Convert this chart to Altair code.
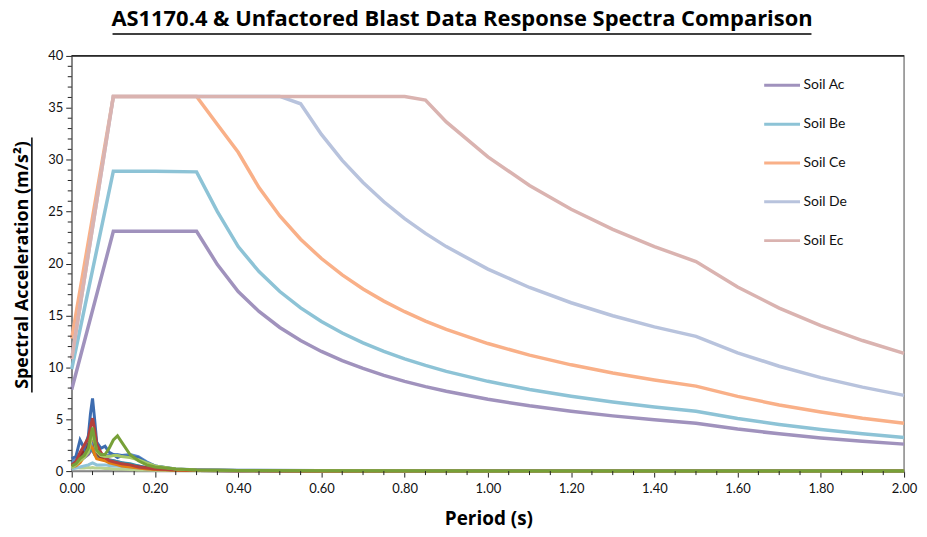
import altair as alt
import pandas as pd

# ---------------- data ----------------
title_text = "AS1170.4 & Unfactored Blast Data Response Spectra Comparison"
x_title = "Period (s)"
y_title = "Spectral Acceleration (m/s²)"

period = [0.0, 0.1, 0.2, 0.3, 0.35, 0.4, 0.45, 0.5, 0.55, 0.6, 0.65, 0.7, 0.75, 0.8,
          0.85, 0.9, 1.0, 1.1, 1.2, 1.3, 1.4, 1.5, 1.6, 1.7, 1.8, 1.9, 2.0]

soil_names = ["Soil Ac", "Soil Be", "Soil Ce", "Soil De", "Soil Ec"]
soil_colors = ["#A092BD", "#8DC3D6", "#F9B088", "#B8C3DD", "#DAB3B0"]

soil_ac = [7.86, 23.1, 23.1, 23.1, 19.9, 17.30, 15.38, 13.84, 12.58, 11.53, 10.65, 9.89, 9.23, 8.65,
           8.14, 7.69, 6.92, 6.29, 5.77, 5.32, 4.94, 4.61, 4.05, 3.59, 3.20, 2.88, 2.60]
soil_be = [9.83, 28.9, 28.9, 28.83, 25.0, 21.63, 19.22, 17.30, 15.73, 14.42, 13.31, 12.36, 11.53, 10.81,
           10.18, 9.61, 8.65, 7.86, 7.21, 6.65, 6.18, 5.77, 5.07, 4.49, 4.00, 3.59, 3.24]
soil_ce = [12.78, 36.1, 36.1, 36.1, 33.4, 30.72, 27.31, 24.58, 22.34, 20.48, 18.90, 17.55, 16.38, 15.36,
           14.46, 13.65, 12.29, 11.17, 10.24, 9.45, 8.78, 8.19, 7.20, 6.37, 5.69, 5.10, 4.61]
soil_de = [10.81, 36.1, 36.1, 36.1, 36.1, 36.1, 36.1, 36.1, 35.39, 32.44, 29.94, 27.81, 25.95, 24.33,
           22.90, 21.63, 19.46, 17.69, 16.22, 14.97, 13.90, 12.98, 11.40, 10.10, 9.01, 8.09, 7.30]
soil_ee = [10.81, 36.1, 36.1, 36.1, 36.1, 36.1, 36.1, 36.1, 36.1, 36.1, 36.1, 36.1, 36.1, 36.1,
           35.75, 33.64, 30.28, 27.52, 25.23, 23.29, 21.63, 20.19, 17.74, 15.71, 14.02, 12.58, 11.35]
soil_values = [soil_ac, soil_be, soil_ce, soil_de, soil_ee]

blast_period = [0.00, 0.01, 0.02, 0.03, 0.04, 0.045, 0.05, 0.055, 0.06, 0.07, 0.08, 0.09, 0.10,
                0.11, 0.12, 0.14, 0.16, 0.18, 0.20, 0.25, 0.30, 0.40, 0.60, 1.00, 2.00]

blast_names = ["B01", "B02", "B03", "B04", "B05", "B06", "B07", "B08", "B09", "B10", "B11"]
blast_colors = ["#B9D38F", "#8FC3D8", "#7E63A2", "#3291AA", "#5B8BC8", "#8E2F2B", "#E37E12",
                "#3D6CB0", "#B5403C", "#A5C768", "#77A038"]
blast_pale = [0.3, 0.35, 0.3, 0.3, 0.35, 0.3, 0.35, 0.3, 0.3, 0.3, 0.25, 0.25, 0.2,
              0.2, 0.2, 0.15, 0.1, 0.1, 0.08, 0.05, 0.04, 0.03, 0.02, 0.01, 0.0]
blast_lightblue = [0.2, 0.3, 0.4, 0.5, 0.6, 0.7, 0.8, 0.7, 0.6, 0.6, 0.6, 0.55, 0.5,
                   0.5, 0.45, 0.4, 0.3, 0.2, 0.15, 0.1, 0.06, 0.04, 0.02, 0.01, 0.0]
blast_purple = [0.6, 0.8, 1.1, 1.3, 1.6, 1.9, 2.1, 1.8, 1.5, 1.3, 1.2, 1.1, 1.0,
                0.9, 0.8, 0.6, 0.5, 0.35, 0.25, 0.1, 0.06, 0.04, 0.02, 0.01, 0.0]
blast_teal = [0.8, 1.0, 1.4, 1.6, 1.8, 2.2, 2.0, 1.6, 1.4, 1.2, 1.1, 1.0, 1.0,
              0.9, 0.8, 0.7, 0.5, 0.3, 0.2, 0.1, 0.06, 0.04, 0.02, 0.01, 0.01]
blast_blue2 = [0.9, 1.1, 1.6, 1.9, 2.0, 2.4, 2.6, 2.0, 1.7, 1.6, 1.5, 1.5, 1.6,
               1.6, 1.5, 1.6, 1.4, 0.9, 0.5, 0.15, 0.1, 0.06, 0.03, 0.02, 0.01]
blast_darkred = [0.5, 0.8, 1.5, 2.0, 2.6, 3.0, 3.3, 2.6, 1.8, 1.3, 1.1, 0.9, 0.8,
                 0.7, 0.6, 0.5, 0.4, 0.3, 0.2, 0.1, 0.06, 0.04, 0.02, 0.01, 0.01]
blast_orange = [0.4, 0.5, 0.8, 1.4, 2.0, 2.5, 2.2, 1.6, 1.2, 1.1, 1.0, 0.8, 0.7,
                0.6, 0.5, 0.4, 0.3, 0.2, 0.15, 0.08, 0.05, 0.03, 0.02, 0.01, 0.01]
blast_blue = [1.2, 1.4, 3.0, 2.2, 3.4, 5.5, 7.0, 5.0, 2.8, 2.2, 2.4, 1.8, 1.6,
              1.3, 1.5, 1.4, 1.3, 0.8, 0.5, 0.2, 0.12, 0.08, 0.05, 0.03, 0.02]
blast_red = [0.6, 0.9, 1.8, 2.5, 3.2, 4.2, 5.1, 4.0, 2.6, 1.8, 1.3, 1.0, 0.9,
             0.8, 0.7, 0.6, 0.4, 0.3, 0.2, 0.12, 0.08, 0.05, 0.04, 0.02, 0.01]
blast_lightgreen = [0.3, 0.6, 1.0, 1.3, 1.8, 2.8, 3.6, 2.8, 1.9, 1.5, 1.4, 1.4, 1.5,
                    1.5, 1.4, 1.3, 1.1, 0.8, 0.5, 0.2, 0.1, 0.05, 0.03, 0.02, 0.01]
blast_olive = [0.5, 0.7, 1.2, 1.5, 2.2, 3.2, 4.2, 3.0, 2.0, 1.6, 1.6, 2.2, 3.0,
               3.4, 2.8, 1.6, 1.0, 0.6, 0.4, 0.2, 0.1, 0.06, 0.04, 0.02, 0.0]
blast_values = [blast_pale, blast_lightblue, blast_purple, blast_teal, blast_blue2, blast_darkred,
                blast_orange, blast_blue, blast_red, blast_lightgreen, blast_olive]

x_major = [0.0, 0.2, 0.4, 0.6, 0.8, 1.0, 1.2, 1.4, 1.6, 1.8, 2.0]
x_minor = [0.05, 0.1, 0.15, 0.25, 0.3, 0.35, 0.45, 0.5, 0.55, 0.65, 0.7, 0.75, 0.85, 0.9, 0.95,
           1.05, 1.1, 1.15, 1.25, 1.3, 1.35, 1.45, 1.5, 1.55, 1.65, 1.7, 1.75, 1.85, 1.9, 1.95]
y_major = [0, 5, 10, 15, 20, 25, 30, 35, 40]
y_minor = [1, 2, 3, 4, 6, 7, 8, 9, 11, 12, 13, 14, 16, 17, 18, 19, 21, 22, 23, 24,
           26, 27, 28, 29, 31, 32, 33, 34, 36, 37, 38, 39]

# ---------------- tables ----------------
soil_rows = []
for name, vals in zip(soil_names, soil_values):
    for t, v in zip(period, vals):
        soil_rows.append({"series": name, "T": t, "SA": v})
soil_df = pd.DataFrame(soil_rows)

blast_rows = []
for name, vals in zip(blast_names, blast_values):
    for t, v in zip(blast_period, vals):
        blast_rows.append({"blast": name, "T": t, "SA": v})
blast_df = pd.DataFrame(blast_rows)

FONT = "Lato"
TFONT = "Open Sans"

x_enc = alt.X(
    "T:Q",
    scale=alt.Scale(domain=[0, 2], nice=False),
    axis=alt.Axis(
        values=x_major, format=".2f",
        title=None, grid=False, domainColor="#868686", domainWidth=1.5,
        tickColor="#222", tickSize=6, labelFont=FONT, labelFontSize=13,
        labelColor="#111", labelPadding=5, labelFlush=False, labelOverlap=False,
    ),
)
y_enc = alt.Y(
    "SA:Q",
    scale=alt.Scale(domain=[0, 40], nice=False),
    axis=alt.Axis(
        values=y_major, format="d",
        title=None, grid=False, domainColor="#868686", domainWidth=1.5,
        tickColor="#222", tickSize=6, labelFont=FONT, labelFontSize=13,
        labelColor="#111", labelPadding=3, labelOverlap=False,
    ),
)

soil = alt.Chart(soil_df).mark_line(strokeWidth=3.5).encode(
    x=x_enc,
    y=y_enc,
    color=alt.Color(
        "series:N",
        scale=alt.Scale(domain=soil_names, range=soil_colors),
        legend=alt.Legend(
            title=None, orient="none", legendX=694, legendY=10,
            symbolType="stroke", symbolSize=1296, symbolStrokeWidth=3,
            labelFont=FONT, labelFontSize=14, labelColor="#111",
            labelOffset=2, rowPadding=12, padding=0,
        ),
    ),
)

blast = alt.Chart(blast_df).mark_line(strokeWidth=3).encode(
    x=alt.X("T:Q"),
    y=alt.Y("SA:Q"),
    color=alt.Color("blast:N", scale=alt.Scale(domain=blast_names, range=blast_colors), legend=None),
    order=alt.Order("T:Q"),
)

# minor ticks
x_minor_ticks = alt.Chart(pd.DataFrame({"T": x_minor})).mark_rule(color="#222", strokeWidth=1).encode(
    x=alt.X("T:Q"), y=alt.value(417), y2=alt.value(421)
)
y_minor_ticks = alt.Chart(pd.DataFrame({"SA": y_minor})).mark_rule(color="#222", strokeWidth=1).encode(
    y=alt.Y("SA:Q"), x=alt.value(-4), x2=alt.value(0)
)

top_rule = alt.Chart(pd.DataFrame({"v": [40]})).mark_rule(color="#000", strokeWidth=1.2).encode(
    y=alt.Y("v:Q"), x=alt.value(0), x2=alt.value(836)
)

title_df = pd.DataFrame({"t": [title_text]})
title = alt.Chart(title_df).mark_text(
    font=TFONT, fontSize=22, fontWeight="bold", color="#000", align="center", baseline="alphabetic"
).encode(text="t:N", x=alt.value(392), y=alt.value(-30))
title_ul = alt.Chart(title_df).mark_rule(color="#000", strokeWidth=1.5).encode(
    x=alt.value(41), x2=alt.value(743), y=alt.value(-22)
)

xt_df = pd.DataFrame({"t": [x_title]})
xtitle = alt.Chart(xt_df).mark_text(
    font=TFONT, fontSize=19, fontWeight="bold", color="#000", align="center", baseline="alphabetic"
).encode(text="t:N", x=alt.value(419), y=alt.value(471))
xtitle_ul = alt.Chart(xt_df).mark_rule(color="#000", strokeWidth=1.5).encode(
    x=alt.value(373), x2=alt.value(465), y=alt.value(478)
)

yt_df = pd.DataFrame({"t": [y_title]})
ytitle = alt.Chart(yt_df).mark_text(
    font=TFONT, fontSize=18, fontWeight="bold", color="#000", align="center", baseline="alphabetic",
    angle=270,
).encode(text="t:N", x=alt.value(-44), y=alt.value(210))
ytitle_ul = alt.Chart(yt_df).mark_rule(color="#000", strokeWidth=1.5).encode(
    x=alt.value(-40), y=alt.value(82), y2=alt.value(338)
)

chart = alt.layer(
    soil, blast, x_minor_ticks, y_minor_ticks, top_rule,
    title, title_ul, xtitle, xtitle_ul, ytitle, ytitle_ul
).resolve_scale(color="independent").properties(
    width=836, height=417, autosize="none",
    padding={"left": 64, "top": 47, "right": 15, "bottom": 57},
).configure_view(stroke="#868686", strokeWidth=1.5).configure_axis(labelOverlap=False)

chart.save("out.html", embed_options={"renderer": "svg", "actions": False})
